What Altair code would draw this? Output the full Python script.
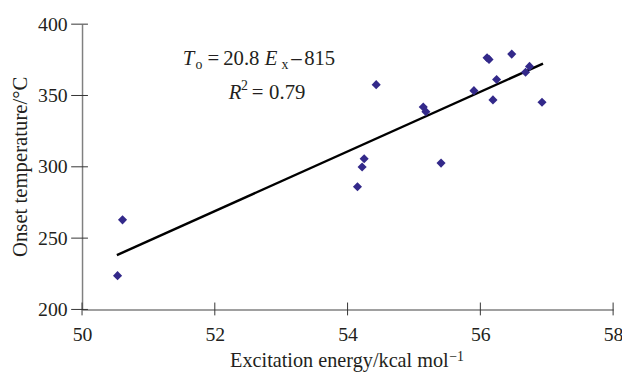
import altair as alt
import pandas as pd

# Data
energy = [50.535, 50.61, 54.149, 54.219, 54.25, 55.408, 54.431, 55.14, 55.18,
          55.903, 56.101, 56.131, 56.473, 56.245, 56.19, 56.681, 56.741, 56.929]
onset = [223.7, 262.8, 286.0, 299.9, 305.7, 302.6, 357.6, 341.9, 338.6,
         353.4, 376.5, 375.3, 379.0, 361.2, 346.9, 366.3, 370.4, 345.3]
trend_x = [50.525, 56.944]
trend_y = [238.1, 372.3]
x_ticks = [50, 52, 54, 56, 58]
y_ticks = [200, 250, 300, 350, 400]

FONT = "Liberation Serif"
W, H = 538, 289
PT_COLOR = "#33298a"
TXT = "#231f20"

pts = pd.DataFrame({"x": energy, "y": onset})
trend = pd.DataFrame({"x": trend_x, "y": trend_y})
xt = pd.DataFrame({"v": x_ticks})
yt = pd.DataFrame({"v": y_ticks})

xscale = alt.Scale(domain=[50, 58], nice=False, zero=False)
yscale = alt.Scale(domain=[200, 400], nice=False, zero=False)

xaxis = alt.Axis(values=x_ticks, format="d", title=None, ticks=False, tickSize=0,
                 grid=False, domainColor="#808080", domainWidth=1.5, labelFont=FONT,
                 labelFontSize=20, labelColor=TXT, labelPadding=15,
                 labelFlush=False, labelOverlap=False)
yaxis = alt.Axis(values=y_ticks, format="d", title=None, ticks=False, tickSize=0,
                 grid=False, domainColor="#808080", domainWidth=1.5, labelFont=FONT,
                 labelFontSize=20, labelColor=TXT, labelPadding=15,
                 labelFlush=False, labelOverlap=False)

points = alt.Chart(pts).mark_point(shape="diamond", filled=True, size=85,
                                   color=PT_COLOR, opacity=1).encode(
    x=alt.X("x:Q", scale=xscale, axis=xaxis),
    y=alt.Y("y:Q", scale=yscale, axis=yaxis),
)

line = alt.Chart(trend).mark_line(color="black", strokeWidth=2.5).encode(
    x=alt.X("x:Q", scale=xscale), y=alt.Y("y:Q", scale=yscale))

xtick_marks = alt.Chart(xt).mark_rule(color="#333", strokeWidth=1).encode(
    x=alt.X("v:Q", scale=xscale), y=alt.value(H - 7), y2=alt.value(H + 6))
ytick_marks = alt.Chart(yt).mark_rule(color="#333", strokeWidth=1).encode(
    y=alt.Y("v:Q", scale=yscale), x=alt.value(-11), x2=alt.value(6))

one = alt.Data(values=[{"a": 1}])


def txt(s, x, y, size=21, italic=False, align="left", angle=None, baseline="alphabetic"):
    kw = dict(text=s, font=FONT, fontSize=size, color=TXT, align=align, baseline=baseline)
    if italic:
        kw["fontStyle"] = "italic"
    if angle is not None:
        kw["angle"] = angle
    return alt.Chart(one).mark_text(**kw).encode(x=alt.value(x), y=alt.value(y))


texts = [
    txt("T", 102, 41, italic=True),
    txt("o", 115, 45, size=14),
    txt("=", 127, 41),
    txt("20.8", 143, 41),
    txt("E", 185, 41, italic=True),
    txt("x", 202, 45, size=14),
    txt("\u2013", 212, 41),
    txt("815", 225, 41),
    txt("R", 148.5, 76, italic=True),
    txt("2", 161, 66.3, size=14),
    txt("=", 172, 76),
    txt("0.79", 189.5, 76),
    txt("Excitation energy/kcal mol", 150, 347, size=20.5),
    txt("\u22121", 372, 341, size=14),
    txt("Onset temperature/\u00b0C", -56, H / 2, size=21, align="center", angle=270),
]

chart = alt.layer(line, points, xtick_marks, ytick_marks, *texts).properties(
    width=W, height=H,
    autosize=alt.AutoSizeParams(type="none"),
    padding={"left": 75, "top": 14, "right": 9, "bottom": 62},
    background="white",
).configure_view(stroke=None)

chart.save("out.html", embed_options={"renderer": "svg", "actions": False})
